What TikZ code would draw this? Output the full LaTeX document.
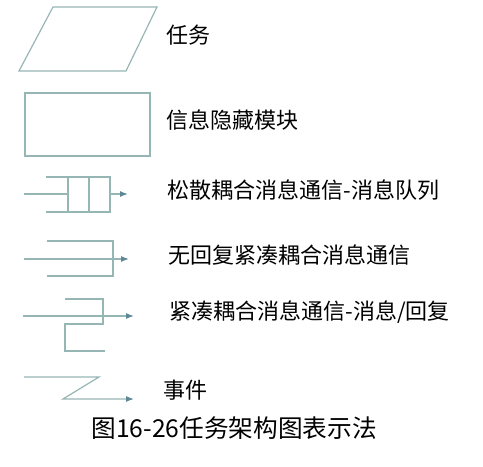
\documentclass[tikz,border=0pt]{standalone}
\usepackage{fontspec}
\setmainfont{Noto Sans CJK SC}
\usetikzlibrary{arrows.meta,positioning}
\definecolor{symline}{RGB}{150,182,180}
\definecolor{symtip}{RGB}{95,135,150}

\begin{document}
\begin{tikzpicture}[x=0.75pt,y=-0.75pt,line width=0.9pt,
  sym/.style={draw=symline,line join=miter},
  msg/.style={draw=symline,-{Latex[length=6pt,width=4.5pt,color=symtip]}},
  lbl/.style={anchor=west,inner sep=0pt,font=\fontsize{16.5}{18}\selectfont},
  ttl/.style={anchor=west,inner sep=0pt,font=\fontsize{18.5}{20}\selectfont}]
  \useasboundingbox (0,0) rectangle (483,467);

  % task and information hiding module
  \draw[sym] (53,7) -- (157,7) -- (126,71) -- (19,71) -- cycle;
  \draw[sym] (25,93) rectangle (150,156);
  \node[lbl] (tsk) at (166,35)  {任务};
  \node[lbl] (hid) at (166,120) {信息隐藏模块};

  % loosely coupled message queue
  \coordinate (q-in)  at (24,194);
  \coordinate (q-l)   at (68,194);
  \coordinate (q-r)   at (110,194);
  \coordinate (q-out) at (128,194);
  \draw[sym] (46,177) -- (110,177) -- (110,212) -- (46,212);
  \draw[sym] (68,177) -- (68,212) (89,177) -- (89,212);
  \draw[sym] (q-in) -- (q-l);
  \draw[msg] (q-r) -- (q-out);
  \node[lbl] (que) at (167,190) {松散耦合消息通信-消息队列};

  % tightly coupled, no reply
  \coordinate (n-in)  at (24,259);
  \coordinate (n-out) at (129,259);
  \draw[sym] (47,241) -- (113,241) -- (113,276) -- (47,276);
  \draw[msg] (n-in) -- (n-out);
  \node[lbl] (nrp) at (168,255) {无回复紧凑耦合消息通信};

  % tightly coupled with reply
  \coordinate (r-in)  at (23,316);
  \coordinate (r-out) at (134,316);
  \draw[sym] (65,299) -- (103,299) -- (103,324) -- (65,324) -- (65,351) -- (105,351);
  \draw[msg] (r-in) -- (r-out);
  \node[lbl] (rpl) at (169,312) {紧凑耦合消息通信-消息/回复};

  % event
  \coordinate (e-in)  at (24,377);
  \coordinate (e-bk)  at (99,377);
  \coordinate (e-lo)  at (63,399);
  \coordinate (e-out) at (134,399);
  \draw[msg] (e-in) -- (e-bk) -- (e-lo) -- (e-out);
  \node[lbl] (evt) at (163,390) {事件};

  \node[ttl] (cap) at (91,428) {图16-26任务架构图表示法};
\end{tikzpicture}
\end{document}
